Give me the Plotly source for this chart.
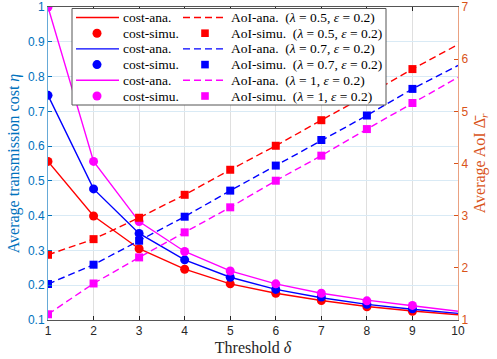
import plotly.graph_objects as go

# threshold values on the x axis
delta = [1, 2, 3, 4, 5, 6, 7, 8, 9, 10]
delta_sim = [1, 2, 3, 4, 5, 6, 7, 8, 9]

# transmission cost (left axis)
cost_ana_05 = [0.556, 0.399, 0.305, 0.246, 0.204, 0.177, 0.156, 0.139, 0.126, 0.115]
cost_ana_07 = [0.746, 0.477, 0.349, 0.273, 0.223, 0.188, 0.164, 0.145, 0.131, 0.119]
cost_ana_1 = [1.0, 0.556, 0.383, 0.297, 0.241, 0.204, 0.177, 0.157, 0.141, 0.125]
cost_sim_05 = [0.556, 0.399, 0.305, 0.246, 0.204, 0.177, 0.156, 0.138, 0.125]
cost_sim_07 = [0.746, 0.477, 0.349, 0.273, 0.223, 0.188, 0.166, 0.145, 0.132]
cost_sim_1 = [1.0, 0.556, 0.383, 0.297, 0.241, 0.204, 0.177, 0.155, 0.142]

# average AoI (right axis)
aoi_ana_05 = [2.25, 2.55, 2.96, 3.40, 3.88, 4.34, 4.83, 5.31, 5.81, 6.28]
aoi_ana_07 = [1.69, 2.06, 2.52, 2.98, 3.48, 3.96, 4.45, 4.92, 5.43, 5.88]
aoi_ana_1 = [1.11, 1.70, 2.20, 2.68, 3.16, 3.67, 4.15, 4.66, 5.16, 5.65]
aoi_sim_05 = [2.25, 2.55, 2.96, 3.40, 3.88, 4.34, 4.83, 5.31, 5.81]
aoi_sim_07 = [1.69, 2.06, 2.52, 2.98, 3.48, 3.96, 4.45, 4.92, 5.43]
aoi_sim_1 = [1.11, 1.70, 2.20, 2.68, 3.16, 3.67, 4.15, 4.66, 5.16]

left_ticks = [0.1, 0.2, 0.3, 0.4, 0.5, 0.6, 0.7, 0.8, 0.9, 1]
right_ticks = [1, 2, 3, 4, 5, 6, 7]

RED, BLUE, MAGENTA = "#ff0000", "#0000ff", "#ff00ff"
LEFT_C, RIGHT_C = "#0072bd", "#d95319"
SERIF = "Liberation Serif"
SANS = "Liberation Sans"

W, H = 497, 359
ML, MR, MT, MB = 48, 39, 7, 39
PW, PH = W - ML - MR, H - MT - MB

series = [
    (RED, cost_ana_05, cost_sim_05, aoi_ana_05, aoi_sim_05, "0.5"),
    (BLUE, cost_ana_07, cost_sim_07, aoi_ana_07, aoi_sim_07, "0.7"),
    (MAGENTA, cost_ana_1, cost_sim_1, aoi_ana_1, aoi_sim_1, "1"),
]

fig = go.Figure()
for color, c_ana, c_sim, a_ana, a_sim, lam in series:
    fig.add_trace(go.Scatter(x=delta, y=a_ana, mode="lines", yaxis="y2",
                             line=dict(color=color, width=1.4, dash="7px,4px"), showlegend=False))
    fig.add_trace(go.Scatter(x=delta_sim, y=a_sim, mode="markers", yaxis="y2",
                             marker=dict(color=color, symbol="square", size=8), showlegend=False))
    fig.add_trace(go.Scatter(x=delta, y=c_ana, mode="lines",
                             line=dict(color=color, width=1.4), showlegend=False))
    fig.add_trace(go.Scatter(x=delta_sim, y=c_sim, mode="markers",
                             marker=dict(color=color, symbol="circle", size=9), showlegend=False))


def px_x(px):
    return (px - ML) / PW


def px_y(py):
    return (H - MB - py) / PH


# legend box drawn over the data, two columns like the original
shapes = [dict(type="rect", xref="paper", yref="paper", layer="above",
               x0=px_x(72), x1=px_x(386), y0=px_y(105), y1=px_y(8.5),
               fillcolor="white", line=dict(color="#555555", width=1))]
annotations = []
row_y = [17.5, 33.2, 48.9, 64.6, 80.3, 96.0]
for i, (color, *_rest, lam) in enumerate(series):
    y_line, y_mark = px_y(row_y[2 * i]), px_y(row_y[2 * i + 1])
    shapes.append(dict(type="line", xref="paper", yref="paper", layer="above",
                       x0=px_x(76), x1=px_x(119), y0=y_line, y1=y_line,
                       line=dict(color=color, width=1.4)))
    shapes.append(dict(type="circle", xref="paper", yref="paper", layer="above",
                       xsizemode="pixel", ysizemode="pixel", xanchor=px_x(97), yanchor=y_mark,
                       x0=-4.5, x1=4.5, y0=-4.5, y1=4.5, fillcolor=color, line=dict(width=0)))
    shapes.append(dict(type="line", xref="paper", yref="paper", layer="above",
                       x0=px_x(183), x1=px_x(227), y0=y_line, y1=y_line,
                       line=dict(color=color, width=1.4, dash="7px,4px")))
    shapes.append(dict(type="rect", xref="paper", yref="paper", layer="above",
                       xsizemode="pixel", ysizemode="pixel", xanchor=px_x(205), yanchor=y_mark,
                       x0=-3.8, x1=3.8, y0=-3.8, y1=3.8, fillcolor=color, line=dict(width=0)))
    par = f"(<i>λ</i> = {lam}, <i>ε</i> = 0.2)"
    for xp, yp, txt in [(121, y_line, "cost-ana."), (121, y_mark, "cost-simu."),
                        (229, y_line, "AoI-ana.  " + par), (229, y_mark, "AoI-simu.  " + par)]:
        annotations.append(dict(x=px_x(xp), y=yp, xref="paper", yref="paper", text=txt,
                                xanchor="left", yanchor="middle", showarrow=False,
                                font=dict(family=SERIF, size=13.5, color="black")))

fig.update_layout(
    width=W, height=H,
    margin=dict(l=ML, r=MR, t=MT, b=MB, pad=0, autoexpand=False),
    plot_bgcolor="white", paper_bgcolor="white",
    shapes=shapes, annotations=annotations,
    xaxis=dict(range=[1, 10], tickvals=delta, ticks="inside", ticklen=4, tickcolor="#262626",
               showline=True, linecolor="#555555", linewidth=1, mirror="ticks",
               showgrid=True, gridcolor="#dfdfdf", zeroline=False, automargin=False,
               tickfont=dict(family=SANS, size=12, color="#262626"),
               title=dict(text="Threshold <i>δ</i>", font=dict(family=SERIF, size=16, color="#262626"),
                          standoff=4)),
    yaxis=dict(range=[0.1, 1], tickvals=left_ticks, ticktext=[f"{v:g}" for v in left_ticks],
               ticks="inside", ticklen=4, tickcolor=LEFT_C,
               showline=True, linecolor="rgba(0,114,189,0.6)", linewidth=1,
               showgrid=True, gridcolor="#d9eaf5", zeroline=False, automargin=False,
               tickfont=dict(family=SANS, size=12, color=LEFT_C),
               title=dict(text="Average transmission cost <i>η</i>",
                          font=dict(family=SERIF, size=16, color=LEFT_C), standoff=4)),
    yaxis2=dict(range=[1, 7], tickvals=right_ticks, overlaying="y", side="right",
                ticks="inside", ticklen=4, tickcolor=RIGHT_C,
                showline=True, linecolor="rgba(217,83,25,0.55)", linewidth=1,
                showgrid=False, zeroline=False, automargin=False,
                tickfont=dict(family=SANS, size=12, color=RIGHT_C),
                title=dict(text="Average AoI Δ̄<sub><i>r</i></sub>",
                           font=dict(family=SERIF, size=16, color=RIGHT_C), standoff=6)),
)

# the page's default body margin would shift the figure by 8px
fig.write_html("out.html", config={"displayModeBar": False},
               post_script="document.body.style.margin = '0';")
